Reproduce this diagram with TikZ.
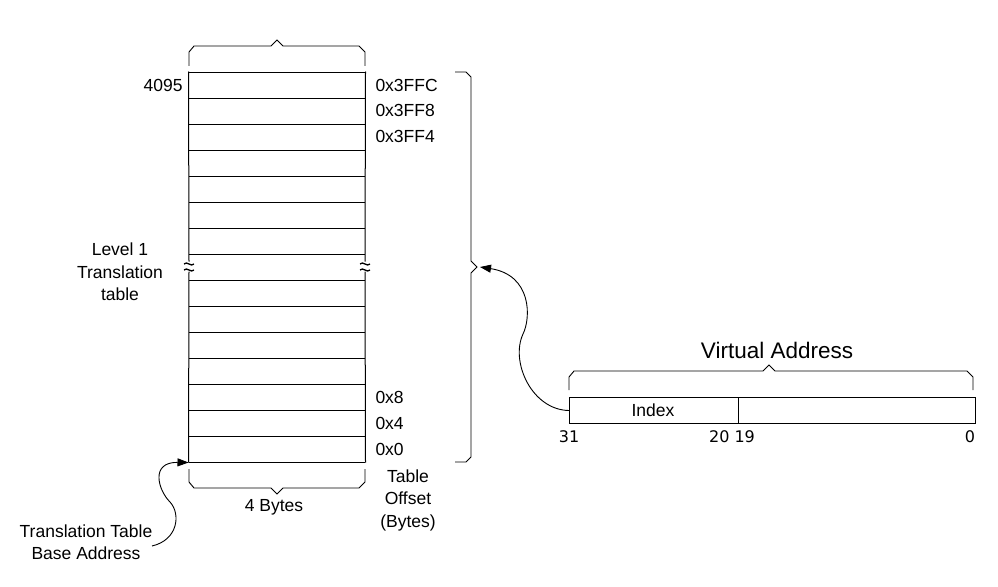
\documentclass[tikz,border=0pt]{standalone}
\usepackage{fontspec}
\setmainfont{Liberation Sans}
\newfontfamily\djv{DejaVu Sans}
\usetikzlibrary{arrows.meta}
\begin{document}
\begin{tikzpicture}[x=1pt,y=-1pt, line width=1pt,
  lbl/.style={inner sep=0pt, font=\fontsize{17.5}{22.5}\selectfont},
  biglbl/.style={inner sep=0pt, font=\fontsize{22.5}{26}\selectfont},
  bitno/.style={inner sep=0pt, font=\djv\fontsize{16}{19}\selectfont},
  brace/.style={line width=0.9pt, line join=miter},
  tilde/.style={line width=1.3pt},
  conn/.style={line width=0.9pt, -{Triangle[length=11pt,width=8pt]}},
  ]
\useasboundingbox (0,0) rectangle (998,586);
% ---- table ----
\node[inner sep=0pt, minimum width=176pt, minimum height=390pt] (tbl) at (277,267) {};
\foreach \i in {0,...,15} \draw ({189},{72+26*\i}) -- ({365},{72+26*\i});
\draw (tbl.north west) -- (189,261.5) (189,271.5) -- (tbl.south west);
\draw (tbl.north east) -- (365,261.5) (365,271.5) -- (tbl.south east);
% break marks
\foreach \x in {189,365} {
  \draw[tilde] ({\x-5},264) .. controls ({\x-2},260.5) and ({\x+2},267.5) .. ({\x+5},264);
  \draw[tilde] ({\x-5},270) .. controls ({\x-2},266.5) and ({\x+2},273.5) .. ({\x+5},270);
}
% top brace
\draw[brace] (189,66) -- (189,52) -- (194,46) -- (271,46) -- (277,40) -- (283,46) -- (359,46) -- (365,52) -- (365,66);
% bottom brace
\draw[brace] (189,469) -- (189,482) -- (194,488) -- (271,488) -- (277,494) -- (283,488) -- (359,488) -- (365,482) -- (365,469);
\node[lbl] (bytes) at (274,507) {4 Bytes};
% left labels
\node[lbl, anchor=east] (n4095) at (183,85) {4095};
\node[lbl, align=center] (lvl) at (120,272) {Level 1\\Translation\\table};
% offsets
\node[lbl, anchor=west] (o1) at (375,85) {0x3FFC};
\node[lbl, anchor=west] (o2) at (375,110) {0x3FF8};
\node[lbl, anchor=west] (o3) at (375,136) {0x3FF4};
\node[lbl, anchor=west] (o4) at (375,397) {0x8};
\node[lbl, anchor=west] (o5) at (375,423) {0x4};
\node[lbl, anchor=west] (o6) at (375,449) {0x0};
\node[lbl, align=center] (toff) at (408,500) {Table\\Offset\\(Bytes)};
% big right brace
\draw[brace] (455,72) -- (466,72) -- (471,77) -- (471,261) -- (477,267) -- (471,273) -- (471,457) -- (466,462) -- (455,462);
\coordinate (bt) at (480,267);
% virtual address
\node[draw, inner sep=0pt, minimum width=406pt, minimum height=26pt, anchor=north west] (va) at (569,397) {};
\draw (738,397) -- (738,423);
\node[lbl] (idx) at (653,410) {Index};
\draw[brace] (569,390) -- (569,377) -- (574,371) -- (763,371) -- (769,365) -- (775,371) -- (967,371) -- (973,377) -- (973,390);
\node[biglbl] (vat) at (777,350) {Virtual Address};
\node[bitno] (b31) at (569,437) {31};
\node[bitno, anchor=east] (b20) at (730,437) {20};
\node[bitno, anchor=west] (b19) at (734,437) {19};
\node[bitno] (b0) at (970,437) {0};
% connector from VA to brace
\draw[conn] (va.west) .. controls (532,410) and (510,362) .. (523,334)
  .. controls (531,318) and (532,275) .. (bt);
% base address
\node[lbl, align=center] (tbase) at (86,542) {Translation Table\\Base Address};
\draw[conn] (152,546) .. controls (178,540) and (181,514) .. (170,502)
  .. controls (158,490) and (150,462) .. (tbl.south west);
\end{tikzpicture}
\end{document}
